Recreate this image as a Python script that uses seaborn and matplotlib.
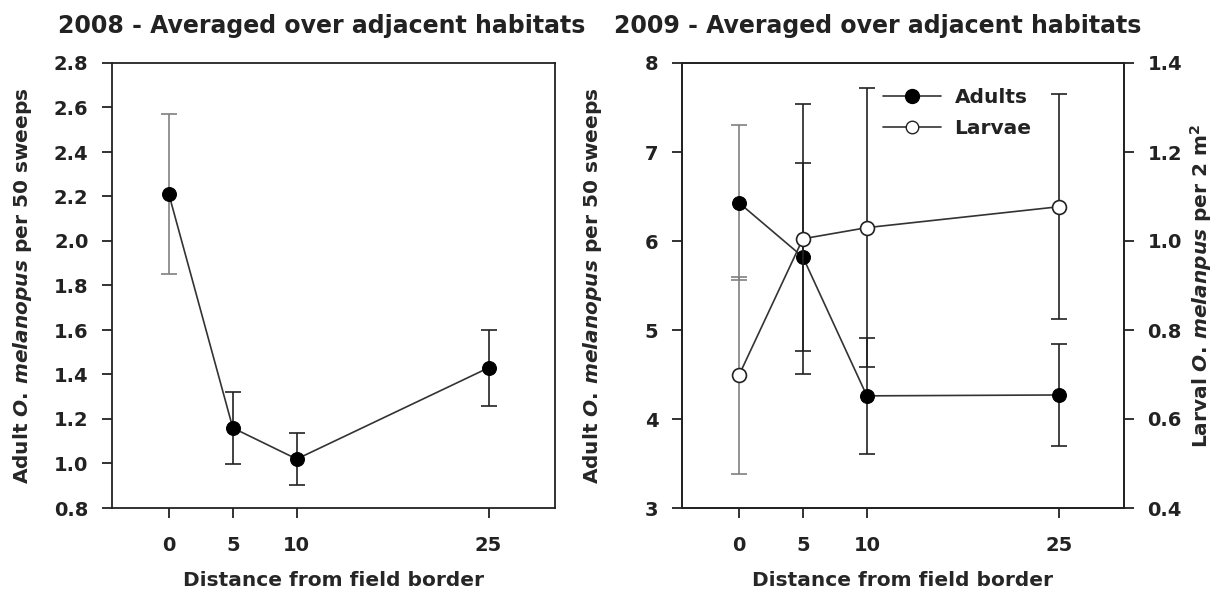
import numpy as np
import pandas as pd
import matplotlib
matplotlib.use("Agg")
import matplotlib.pyplot as plt
import seaborn as sns
from matplotlib.lines import Line2D

# Distances from the field border (m)
distance = [0, 5, 10, 25]

# 2008 adults (per 50 sweeps) and their error bars
adults_2008 = [2.21, 1.16, 1.02, 1.43]
adults_2008_err = [0.36, 0.16, 0.115, 0.17]

# 2009 adults (per 50 sweeps, left axis) and larvae (per 2 m^2, right axis)
adults_2009 = [6.43, 5.82, 4.26, 4.27]
adults_2009_err = [0.87, 1.06, 0.65, 0.57]
larvae_2009 = [0.698, 1.005, 1.03, 1.077]
larvae_2009_err = [0.221, 0.303, 0.314, 0.253]

tick_labels = ["0", "5", "10", "25"]

sns.set_theme(style="ticks")
plt.rcParams["font.family"] = ["DejaVu Sans"]
plt.rcParams["font.weight"] = "bold"
plt.rcParams["mathtext.fontset"] = "custom"
plt.rcParams["mathtext.rm"] = "DejaVu Sans:bold"
plt.rcParams["mathtext.it"] = "DejaVu Sans:italic:bold"
plt.rcParams["mathtext.bf"] = "DejaVu Sans:bold"
plt.rcParams["text.color"] = "#222222"

LINE = "#333333"
ERR_FIRST = "#808080"
ERR = "#222222"
TICK_FS = 14
LABEL_FS = 14.5
TITLE_FS = 17

W, H = 1215, 590
fig = plt.figure(figsize=(W / 100, H / 100), dpi=100)
ax1 = fig.add_axes([112 / W, 1 - 508 / H, 443 / W, 445 / H])
ax2 = fig.add_axes([682 / W, 1 - 508 / H, 442 / W, 445 / H])
ax3 = ax2.twinx()


def draw_errors(ax, x, y, err):
    for i, (xi, yi, ei) in enumerate(zip(x, y, err)):
        ax.errorbar(xi, yi, yerr=ei, fmt="none",
                    ecolor=ERR_FIRST if i == 0 else ERR,
                    elinewidth=1.2, capsize=6, capthick=1.2, zorder=2)


def style_axis(ax):
    for s in ax.spines.values():
        s.set_linewidth(1.3)
        s.set_color("#222222")
        s.set_visible(True)
    ax.tick_params(direction="out", length=7, width=1.3, colors="#222222",
                   labelsize=TICK_FS)
    ax.tick_params(axis="x", pad=13)
    ax.tick_params(axis="y", pad=10)
    for lab in ax.get_xticklabels() + ax.get_yticklabels():
        lab.set_fontweight("bold")


ADULT_LABEL = r"Adult $\mathit{O.\,melanopus}$ per 50 sweeps"
LARVAL_LABEL = r"Larval $\mathit{O.\,melanpus}$ per 2 m$^{2}$"

# ---- 2008 panel ----
df08 = pd.DataFrame({"distance": distance, "adults": adults_2008})
draw_errors(ax1, distance, adults_2008, adults_2008_err)
sns.lineplot(data=df08, x="distance", y="adults", ax=ax1, color=LINE,
             linewidth=1.2, marker="o", markersize=10, markerfacecolor="black",
             markeredgecolor="black", zorder=3)
ax1.set_xlim(-4.45, 30.2)
ax1.set_ylim(0.8, 2.8)
ax1.set_xticks(distance)
ax1.set_xticklabels(tick_labels)
ax1.set_yticks(np.arange(0.8, 2.81, 0.2))
ax1.set_yticklabels([f"{v:.1f}" for v in np.arange(0.8, 2.81, 0.2)])
ax1.set_xlabel("Distance from field border", fontsize=LABEL_FS,
               fontweight="bold")
ax1.set_ylabel(ADULT_LABEL, fontsize=LABEL_FS, fontweight="bold")
ax1.xaxis.set_label_coords(0.5, -0.142)
ax1.yaxis.set_label_coords(-0.176, 0.5)
style_axis(ax1)

# ---- 2009 panel ----
df09 = pd.DataFrame({"distance": distance, "adults": adults_2009,
                     "larvae": larvae_2009})
draw_errors(ax2, distance, adults_2009, adults_2009_err)
sns.lineplot(data=df09, x="distance", y="adults", ax=ax2, color=LINE,
             linewidth=1.2, marker="o", markersize=10, markerfacecolor="black",
             markeredgecolor="black", zorder=3)
draw_errors(ax3, distance, larvae_2009, larvae_2009_err)
sns.lineplot(data=df09, x="distance", y="larvae", ax=ax3, color=LINE,
             linewidth=1.2, marker="o", markersize=10, markerfacecolor="white",
             markeredgecolor="#222222", markeredgewidth=1.2, zorder=3)
ax2.set_xlim(-4.45, 30.1)
ax2.set_ylim(3, 8)
ax3.set_ylim(0.4, 1.4)
ax2.set_xticks(distance)
ax2.set_xticklabels(tick_labels)
ax2.set_yticks([3, 4, 5, 6, 7, 8])
ax3.set_yticks(np.arange(0.4, 1.41, 0.2))
ax3.set_yticklabels([f"{v:.1f}" for v in np.arange(0.4, 1.41, 0.2)])
ax2.set_xlabel("Distance from field border", fontsize=LABEL_FS,
               fontweight="bold")
ax2.set_ylabel(ADULT_LABEL, fontsize=LABEL_FS, fontweight="bold")
ax3.set_ylabel(LARVAL_LABEL, fontsize=LABEL_FS, fontweight="bold")
ax2.xaxis.set_label_coords(0.5, -0.142)
ax2.yaxis.set_label_coords(-0.176, 0.5)
ax3.yaxis.set_label_coords(1.145, 0.5)
style_axis(ax2)
style_axis(ax3)

# Panel titles
fig.text(322 / W, 1 - 26 / H, "2008 - Averaged over adjacent habitats",
         fontsize=TITLE_FS, fontweight="bold", ha="center", va="center")
fig.text(878 / W, 1 - 26 / H, "2009 - Averaged over adjacent habitats",
         fontsize=TITLE_FS, fontweight="bold", ha="center", va="center")

handles = [
    Line2D([], [], color=LINE, linewidth=1.2, marker="o", markersize=10,
           markerfacecolor="black", markeredgecolor="black"),
    Line2D([], [], color=LINE, linewidth=1.2, marker="o", markersize=9,
           markerfacecolor="white", markeredgecolor="#222222"),
]
ax2.legend(handles, ["Adults", "Larvae"], loc="upper left",
           bbox_to_anchor=(0.455, 0.944), frameon=False, handlelength=2.85,
           prop={"weight": "bold", "size": 14.5}, labelspacing=0.6,
           handletextpad=0.7, borderpad=0, borderaxespad=0)

fig.savefig("out.png", dpi=100)
